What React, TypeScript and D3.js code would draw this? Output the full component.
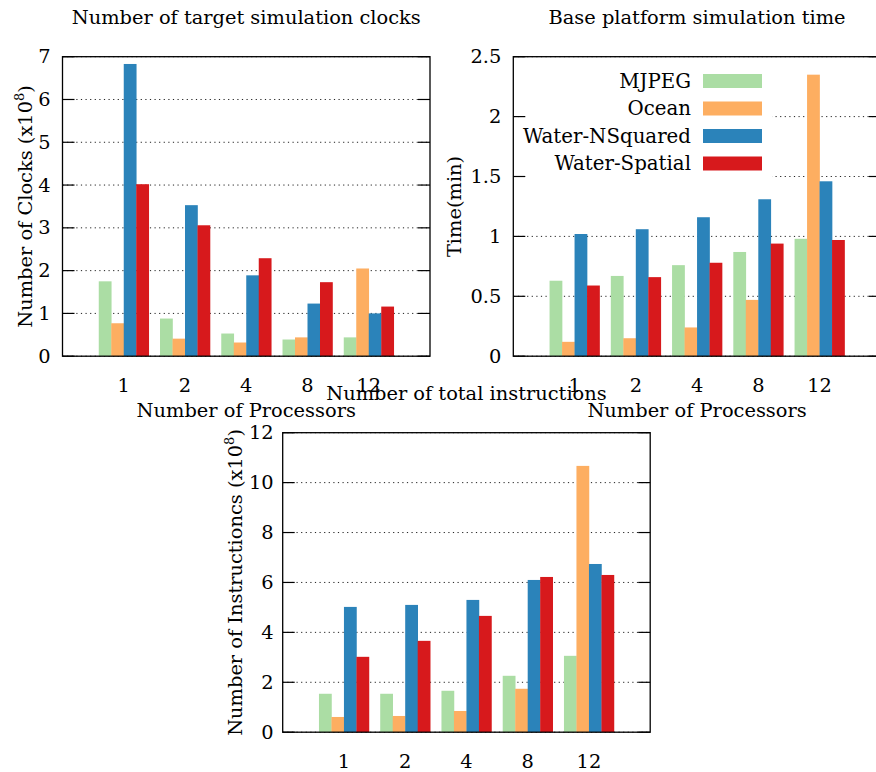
import React from "react";
import * as d3 from "d3";

const categories = ["1", "2", "4", "8", "12"];
const seriesNames = ["MJPEG", "Ocean", "Water-NSquared", "Water-Spatial"];
const seriesColors = ["#abdda4", "#fdae61", "#2b83ba", "#d7191c"];

const clocksMJPEG = [1.75, 0.88, 0.53, 0.39, 0.44];
const clocksOcean = [0.77, 0.41, 0.32, 0.44, 2.05];
const clocksWNS = [6.83, 3.53, 1.89, 1.23, 1.0];
const clocksWS = [4.02, 3.06, 2.29, 1.73, 1.16];

const timeMJPEG = [0.63, 0.67, 0.76, 0.87, 0.98];
const timeOcean = [0.12, 0.15, 0.24, 0.47, 2.35];
const timeWNS = [1.02, 1.06, 1.16, 1.31, 1.46];
const timeWS = [0.59, 0.66, 0.78, 0.94, 0.97];

const instrMJPEG = [1.54, 1.54, 1.66, 2.26, 3.06];
const instrOcean = [0.61, 0.65, 0.85, 1.74, 10.67];
const instrWNS = [5.02, 5.1, 5.3, 6.1, 6.74];
const instrWS = [3.02, 3.66, 4.66, 6.22, 6.3];

const clocksTicks = [0, 1, 2, 3, 4, 5, 6, 7];
const timeTicks = [0, 0.5, 1, 1.5, 2, 2.5];
const instrTicks = [0, 2, 4, 6, 8, 10, 12];

const FONT = "'DejaVu Serif', serif";
const FS = 19.4;
const LFS = 19.8;

type PanelProps = {
  left: number;
  top: number;
  width: number;
  height: number;
  title: string;
  yLabel: React.ReactNode;
  yLabelOffset: number;
  tickLabelOffset: number;
  xTitle?: string;
  yMax: number;
  yTicks: number[];
  tickFormat: (v: number) => string;
  data: number[][];
  legend?: boolean;
};

function Panel(p: PanelProps) {
  const x = d3.scaleLinear().domain([-1, 5]).range([p.left, p.left + p.width]);
  const y = d3.scaleLinear().domain([0, p.yMax]).range([p.top + p.height, p.top]);
  const unit = x(1) - x(0);
  const bw = unit * 0.204;
  const right = p.left + p.width;
  const bottom = p.top + p.height;
  const tickLen = 12;
  return (
    <g>
      {p.yTicks.map((t, i) => (
        <line
          key={"g" + i}
          x1={p.left}
          x2={right}
          y1={y(t)}
          y2={y(t)}
          stroke="#222"
          strokeWidth={1}
          strokeDasharray="1.2,3.4"
        />
      ))}
      {p.data.map((series, si) =>
        series.map((v, ci) => (
          <rect
            key={"b" + si + "-" + ci}
            x={x(ci) - 2 * bw + si * bw}
            y={y(v)}
            width={bw + 0.3}
            height={bottom - y(v)}
            fill={seriesColors[si]}
          />
        ))
      )}
      {p.legend && (
        <g>
          <rect x={522} y={66} width={250} height={112} fill="#fff" />
          {seriesNames.map((n, i) => (
            <g key={"l" + i}>
              <text
                x={691}
                y={81 + i * 27.5}
                textAnchor="end"
                dominantBaseline="central"
                fontFamily={FONT}
                fontSize={LFS}
              >
                {n}
              </text>
              <rect x={703} y={74 + i * 27.5} width={59} height={14} fill={seriesColors[i]} />
            </g>
          ))}
        </g>
      )}
      {p.yTicks.map((t, i) => (
        <g key={"t" + i}>
          <line x1={p.left} x2={p.left + tickLen} y1={y(t)} y2={y(t)} stroke="#000" strokeWidth={1.2} />
          <line x1={right - tickLen} x2={right} y1={y(t)} y2={y(t)} stroke="#000" strokeWidth={1.2} />
          <text
            x={p.left - p.tickLabelOffset}
            y={y(t)}
            textAnchor="end"
            dominantBaseline="central"
            fontFamily={FONT}
            fontSize={FS}
          >
            {p.tickFormat(t)}
          </text>
        </g>
      ))}
      <rect x={p.left} y={p.top} width={p.width} height={p.height} fill="none" stroke="#000" strokeWidth={1.3} />
      {categories.map((c, i) => (
        <text key={"x" + i} x={x(i)} y={bottom + 36} textAnchor="middle" fontFamily={FONT} fontSize={FS}>
          {c}
        </text>
      ))}
      <text x={(p.left + right) / 2} y={p.top - 32.7} textAnchor="middle" fontFamily={FONT} fontSize={FS}>
        {p.title}
      </text>
      {p.xTitle && (
        <text x={(p.left + right) / 2} y={bottom + 61} textAnchor="middle" fontFamily={FONT} fontSize={FS}>
          {p.xTitle}
        </text>
      )}
      <text
        transform={`translate(${p.left - p.yLabelOffset},${(p.top + bottom) / 2}) rotate(-90)`}
        textAnchor="middle"
        fontFamily={FONT}
        fontSize={FS}
      >
        {p.yLabel}
      </text>
    </g>
  );
}

export default function App() {
  const fmtInt = (v: number) => String(v);
  const fmtHalf = (v: number) => (Number.isInteger(v) ? String(v) : v.toFixed(1));
  return (
    <svg
      width={876}
      height={772}
      style={{ position: "absolute", left: 0, top: 0, background: "#fff" }}
    >
      <rect x={0} y={0} width={876} height={772} fill="#fff" />
      <Panel
        left={62.5}
        top={56.7}
        width={367.5}
        height={299.5}
        title="Number of target simulation clocks"
        yLabel={
          <>
            Number of Clocks (x10
            <tspan dy={-8} fontSize={13}>8</tspan>
            <tspan dy={8}>)</tspan>
          </>
        }
        yLabelOffset={30.5}
        tickLabelOffset={12}
        xTitle="Number of Processors"
        yMax={7}
        yTicks={clocksTicks}
        tickFormat={fmtInt}
        data={[clocksMJPEG, clocksOcean, clocksWNS, clocksWS]}
      />
      <Panel
        left={513.3}
        top={56.7}
        width={367.5}
        height={299.5}
        title="Base platform simulation time"
        yLabel="Time(min)"
        yLabelOffset={52}
        tickLabelOffset={12}
        xTitle="Number of Processors"
        yMax={2.5}
        yTicks={timeTicks}
        tickFormat={fmtHalf}
        data={[timeMJPEG, timeOcean, timeWNS, timeWS]}
        legend
      />
      <Panel
        left={282.7}
        top={432.7}
        width={367.5}
        height={299.5}
        title="Number of total instructions"
        yLabel={
          <>
            Number of Instructioncs (x10
            <tspan dy={-8} fontSize={13}>8</tspan>
            <tspan dy={8}>)</tspan>
          </>
        }
        yLabelOffset={40.7}
        tickLabelOffset={9}
        yMax={12}
        yTicks={instrTicks}
        tickFormat={fmtInt}
        data={[instrMJPEG, instrOcean, instrWNS, instrWS]}
      />
    </svg>
  );
}
